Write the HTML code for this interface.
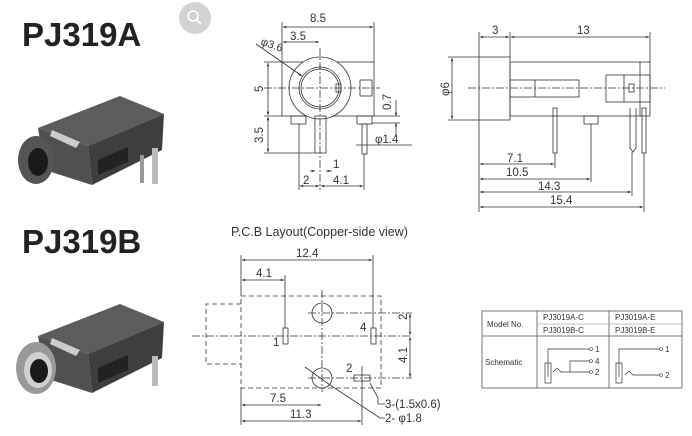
<!DOCTYPE html>
<html><head><meta charset="utf-8"><style>
html,body{margin:0;padding:0;background:#fff;}
svg{display:block;font-family:"Liberation Sans",Arial,sans-serif;}
</style></head><body>
<svg width="692" height="436" viewBox="0 0 692 436" xmlns="http://www.w3.org/2000/svg">
<defs>
<marker id="a" viewBox="0 0 10 10" refX="10" refY="5" markerWidth="6" markerHeight="4" orient="auto-start-reverse"><path d="M0,1 L10,5 L0,9z" fill="#333"/></marker>
</defs>
<rect width="692" height="436" fill="#fff"/>
<text x="22" y="46" font-size="33" font-weight="bold" fill="#222">PJ319A</text>
<text x="22" y="253" font-size="33" font-weight="bold" fill="#222">PJ319B</text>
<circle cx="195" cy="18" r="16" fill="#d3d3d3"/>
<circle cx="193" cy="16" r="5" fill="none" stroke="#fff" stroke-width="1.6"/>
<line x1="197" y1="20" x2="201" y2="24" stroke="#fff" stroke-width="1.8"/>

<!-- Photo A -->
<g>
<polygon points="38,128 120,96 164,114 88,146" fill="#5c5c5c"/>
<polygon points="88,146 164,114 162,150 92,185" fill="#3e3e3e"/>
<polygon points="38,128 88,146 92,185 45,170" fill="#505050"/>
<polygon points="98,160 128,147 128,162 98,175" fill="#222"/>
<rect x="152" y="148" width="6" height="36" fill="#bbb"/>
<rect x="140" y="155" width="4" height="28" fill="#999"/>
<ellipse cx="36" cy="160" rx="18" ry="24" fill="#555"/>
<ellipse cx="38" cy="162" rx="10" ry="14" fill="#1a1a1a"/>
<polygon points="52,130 80,142 76,148 50,136" fill="#ccc"/>
</g>
<!-- Photo B -->
<g>
<polygon points="38,336 120,304 164,322 88,354" fill="#5c5c5c"/>
<polygon points="88,354 164,322 162,358 92,393" fill="#3e3e3e"/>
<polygon points="38,336 88,354 92,393 45,378" fill="#505050"/>
<polygon points="98,368 128,355 128,370 98,383" fill="#222"/>
<rect x="152" y="356" width="6" height="30" fill="#bbb"/>
<ellipse cx="36" cy="368" rx="20" ry="26" fill="#999"/>
<ellipse cx="38" cy="370" rx="14" ry="18" fill="#d0d0d0"/>
<ellipse cx="39" cy="371" rx="9" ry="12" fill="#1a1a1a"/>
<polygon points="52,338 80,350 76,356 50,344" fill="#ccc"/>
</g>

<g stroke="#333" stroke-width="0.8" fill="none">
<rect x="282" y="62" width="92" height="54"/>
<circle cx="320" cy="88" r="31" fill="#fff"/>
<circle cx="320" cy="88" r="21"/>
<circle cx="320" cy="88" r="19"/>
<rect x="336" y="84" width="5" height="8"/>
<rect x="360" y="80" width="12" height="16"/>
<line x1="264" y1="88" x2="380" y2="88" stroke-dasharray="8,2,2,2"/>
<line x1="320" y1="48" x2="320" y2="190" stroke-dasharray="8,2,2,2"/>
<rect x="291" y="116" width="15" height="8"/>
<rect x="315" y="116" width="11" height="37"/>
<rect x="357" y="116" width="15" height="8"/>
<rect x="362" y="124" width="5" height="30"/>
<line x1="282" y1="22" x2="282" y2="62"/><line x1="374" y1="22" x2="374" y2="62"/>
<line x1="283" y1="27" x2="373" y2="27" marker-start="url(#a)" marker-end="url(#a)"/>
<line x1="283" y1="42" x2="319" y2="42" marker-start="url(#a)" marker-end="url(#a)"/>
<line x1="256" y1="44" x2="302" y2="76" marker-end="url(#a)"/>
<line x1="264" y1="62" x2="282" y2="62"/><line x1="264" y1="116" x2="282" y2="116"/><line x1="264" y1="153" x2="315" y2="153"/>
<line x1="268" y1="63" x2="268" y2="115" marker-start="url(#a)" marker-end="url(#a)"/>
<line x1="268" y1="117" x2="268" y2="152" marker-start="url(#a)" marker-end="url(#a)"/>
<line x1="374" y1="116" x2="400" y2="116"/><line x1="372" y1="123" x2="400" y2="123"/>
<line x1="396" y1="100" x2="396" y2="116" marker-end="url(#a)"/>
<line x1="396" y1="135" x2="396" y2="123" marker-end="url(#a)"/>
<line x1="356" y1="145" x2="412" y2="145"/>
<line x1="310" y1="171" x2="315" y2="171" marker-end="url(#a)"/><line x1="332" y1="171" x2="326" y2="171" marker-end="url(#a)"/>
<line x1="299" y1="124" x2="299" y2="190"/><line x1="364" y1="154" x2="364" y2="190"/>
<line x1="300" y1="186" x2="319" y2="186" marker-start="url(#a)" marker-end="url(#a)"/>
<line x1="321" y1="186" x2="363" y2="186" marker-start="url(#a)" marker-end="url(#a)"/>

<rect x="479" y="57" width="31" height="63"/>
<rect x="510" y="62" width="140" height="54"/>
<rect x="510" y="80" width="69" height="17"/>
<line x1="535" y1="80" x2="535" y2="97"/>
<rect x="606" y="75" width="44" height="27"/>
<line x1="624" y1="75" x2="624" y2="102"/><line x1="640" y1="62" x2="640" y2="116"/>
<rect x="629" y="84" width="5" height="8"/>
<line x1="468" y1="88" x2="665" y2="88" stroke-dasharray="8,2,2,2"/>
<rect x="553" y="108" width="4" height="45"/>
<rect x="584" y="116" width="14" height="8"/>
<path d="M630,108 v40 l3,4 l3,-4 v-40"/>
<rect x="642" y="108" width="4" height="45"/>
<line x1="479" y1="32" x2="479" y2="57"/><line x1="510" y1="32" x2="510" y2="57"/><line x1="650" y1="32" x2="650" y2="62"/>
<line x1="480" y1="37" x2="509" y2="37" marker-start="url(#a)" marker-end="url(#a)"/>
<line x1="511" y1="37" x2="649" y2="37" marker-start="url(#a)" marker-end="url(#a)"/>
<line x1="448" y1="57" x2="479" y2="57"/><line x1="448" y1="120" x2="479" y2="120"/>
<line x1="452" y1="58" x2="452" y2="119" marker-start="url(#a)" marker-end="url(#a)"/>
<line x1="479" y1="120" x2="479" y2="212"/>
<line x1="555" y1="153" x2="555" y2="168"/><line x1="591" y1="124" x2="591" y2="182"/><line x1="632" y1="152" x2="632" y2="196"/><line x1="644" y1="153" x2="644" y2="212"/>
<line x1="480" y1="164" x2="554" y2="164" marker-start="url(#a)" marker-end="url(#a)"/>
<line x1="480" y1="179" x2="590" y2="179" marker-start="url(#a)" marker-end="url(#a)"/>
<line x1="480" y1="192" x2="631" y2="192" marker-start="url(#a)" marker-end="url(#a)"/>
<line x1="480" y1="207" x2="643" y2="207" marker-start="url(#a)" marker-end="url(#a)"/>

<rect x="241" y="296" width="140" height="92" stroke-dasharray="5,3"/>
<polyline points="241,304 206,304 206,364 241,364" stroke-dasharray="5,3"/>
<line x1="192" y1="336" x2="412" y2="336" stroke-dasharray="8,2,2,2"/>
<line x1="322" y1="290" x2="322" y2="392" stroke-dasharray="8,2,2,2"/>
<circle cx="322" cy="313" r="10"/>
<circle cx="322" cy="378" r="10"/>
<line x1="308" y1="313" x2="412" y2="313" stroke-dasharray="8,2,2,2"/>
<line x1="308" y1="378" x2="412" y2="378" stroke-dasharray="8,2,2,2"/>
<rect x="283" y="328" width="5" height="16"/>
<rect x="371" y="328" width="5" height="16"/>
<rect x="354" y="375" width="16" height="6"/>
<line x1="362" y1="366" x2="362" y2="425"/>
<line x1="241" y1="255" x2="241" y2="296"/><line x1="373" y1="255" x2="373" y2="328"/><line x1="285" y1="275" x2="285" y2="328"/>
<line x1="242" y1="260" x2="372" y2="260" marker-start="url(#a)" marker-end="url(#a)"/>
<line x1="242" y1="280" x2="284" y2="280" marker-start="url(#a)" marker-end="url(#a)"/>
<line x1="410" y1="314" x2="410" y2="335" marker-start="url(#a)" marker-end="url(#a)"/>
<line x1="410" y1="337" x2="410" y2="377" marker-start="url(#a)" marker-end="url(#a)"/>
<line x1="241" y1="388" x2="241" y2="425"/>
<line x1="242" y1="405" x2="321" y2="405" marker-start="url(#a)" marker-end="url(#a)"/>
<line x1="242" y1="421" x2="361" y2="421" marker-start="url(#a)" marker-end="url(#a)"/>
<polyline points="370,383 378,398 378,404 385,404"/>
<polyline points="305,367 330,385 380,418 385,418"/>

<rect x="482" y="311" width="200" height="77" stroke="#555"/>
<line x1="537" y1="311" x2="537" y2="388" stroke="#555"/>
<line x1="609" y1="311" x2="609" y2="388" stroke="#555"/>
<line x1="537" y1="324" x2="682" y2="324" stroke="#888" stroke-width="0.6"/>
<line x1="482" y1="336" x2="682" y2="336" stroke="#555"/>
<polyline points="548,377 548,349 590,349" stroke-width="0.7"/>
<rect x="545" y="363" width="6" height="20" stroke-width="0.7"/>
<polyline points="553,372 557,368 561,372 590,372" stroke-width="0.7"/>
<polyline points="570,372 570,361 590,361" stroke-width="0.7"/>
<polyline points="619,377 619,349 660,349" stroke-width="0.7"/>
<rect x="616" y="363" width="6" height="20" stroke-width="0.7"/>
<polyline points="625,375 629,371 633,375 660,375" stroke-width="0.7"/>
</g>
<g fill="#333" font-size="11.5">
<text x="310" y="22">8.5</text>
<text x="290" y="40">3.5</text>
<text x="260" y="45" transform="rotate(20 262 45)" font-size="11">φ3.6</text>
<text x="263" y="92" transform="rotate(-90 263 92)">5</text>
<text x="263" y="143" transform="rotate(-90 263 143)">3.5</text>
<text x="391" y="110" transform="rotate(-90 391 110)">0.7</text>
<text x="375" y="143">φ1.4</text>
<text x="333" y="168">1</text>
<text x="303" y="184">2</text>
<text x="333" y="184">4.1</text>
<text x="492" y="34">3</text>
<text x="577" y="34">13</text>
<text x="449" y="96" transform="rotate(-90 449 96)">φ6</text>
<text x="507" y="162">7.1</text>
<text x="506" y="176">10.5</text>
<text x="538" y="190">14.3</text>
<text x="550" y="204">15.4</text>
<text x="231" y="236" font-size="12.5">P.C.B Layout(Copper-side  view)</text>
<text x="296" y="257">12.4</text>
<text x="256" y="277">4.1</text>
<text x="273" y="346">1</text>
<text x="360" y="331">4</text>
<text x="346" y="372">2</text>
<text x="407" y="320" transform="rotate(-90 407 320)">2</text>
<text x="407" y="363" transform="rotate(-90 407 363)">4.1</text>
<text x="270" y="402">7.5</text>
<text x="290" y="418">11.3</text>
<text x="385" y="408">3-(1.5x0.6)</text>
<text x="385" y="422">2- φ1.8</text>
</g>
<g fill="#333" font-size="8">
<text x="487" y="327">Model No.</text>
<text x="543" y="320">PJ3019A-C</text>
<text x="543" y="333">PJ3019B-C</text>
<text x="615" y="320">PJ3019A-E</text>
<text x="615" y="333">PJ3019B-E</text>
<text x="485" y="365">Schematic</text>
<text x="595" y="352">1</text><text x="595" y="364">4</text><text x="595" y="375">2</text>
<text x="665" y="352">1</text><text x="665" y="378">2</text>
</g>
<g fill="#fff" stroke="#333" stroke-width="0.6">
<circle cx="591" cy="349" r="1.5"/><circle cx="591" cy="361" r="1.5"/><circle cx="591" cy="372" r="1.5"/>
<circle cx="661" cy="349" r="1.5"/><circle cx="661" cy="375" r="1.5"/>
</g>
</svg>
</body></html>
